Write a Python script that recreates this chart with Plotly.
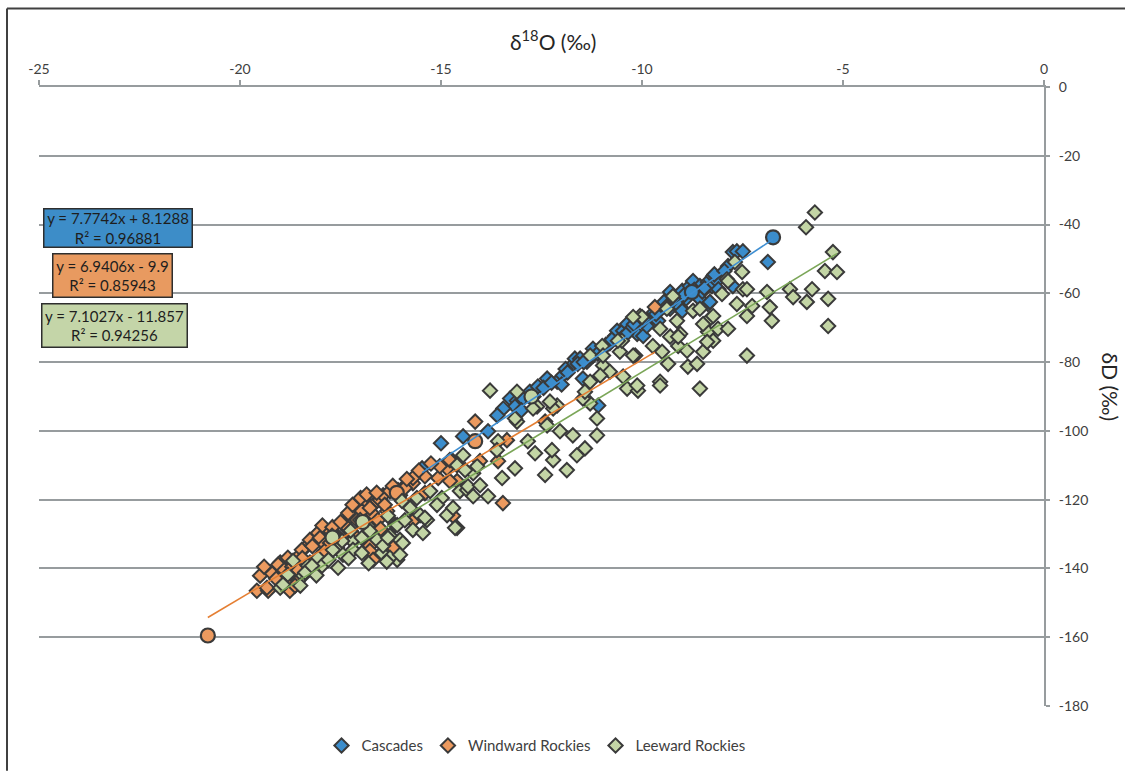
import numpy as np
import plotly.graph_objects as go

# ---- data: δ18O (x) and δD (y), ‰ ----
cascades_x = [-15.47, -15.0, -14.45, -13.83, -13.28, -13.11, -13.16, -12.96, -12.79, -12.59,
              -12.36, -12.11, -11.97, -11.74, -11.67, -11.54, -11.37, -11.22, -11.22, -11.47,
              -11.09, -10.97, -10.67, -10.62, -10.47, -10.37, -10.12, -9.97, -9.88, -9.75,
              -9.60, -9.30, -9.30, -9.13, -9.05, -9.0, -9.0, -8.81, -8.81, -8.73,
              -8.63, -8.56, -8.56, -8.36, -8.36, -8.31, -8.26, -8.23, -8.13, -7.74,
              -7.74, -7.64, -7.49, -6.87, -7.86, -12.0, -11.9, -11.6, -10.8, -10.5,
              -10.25, -10.0, -9.7, -9.45, -8.9, -8.5, -8.1,
              -12.7, -12.45, -12.25, -11.85, -11.45, -11.1, -10.9, -10.75, -10.4, -10.2,
              -9.95, -9.65, -9.4, -9.2, -8.95, -8.7, -8.45, -8.2, -7.95, -13.0,
              -13.45, -13.6]
cascades_y = [-110.9, -103.6, -101.6, -100.1, -90.6, -91.2, -92.9, -90.6, -88.6, -87.1,
              -84.8, -85.7, -83.9, -81.0, -79.0, -79.0, -79.9, -78.1, -76.1, -84.8,
              -92.6, -76.1, -72.4, -70.9, -70.9, -68.9, -71.8, -72.4, -69.5, -66.6,
              -68.0, -64.5, -59.6, -63.7, -64.0, -65.1, -59.3, -60.2, -57.9, -56.4,
              -60.8, -61.6, -57.9, -63.1, -56.7, -62.5, -57.9, -55.0, -56.4, -57.9,
              -48.0, -47.8, -47.8, -50.9, -52.1, -86.5, -82.0, -80.5, -74.5, -73.0,
              -70.0, -68.0, -65.5, -62.5, -61.5, -59.5, -58.8,
              -90.0, -87.5, -86.0, -83.0, -80.0, -77.5, -75.0, -73.5, -72.0, -69.0,
              -67.5, -66.0, -64.0, -61.5, -60.5, -59.0, -58.5, -54.5, -53.5, -94.0,
              -93.5, -95.5]
cascades_circle_x = [-6.74, -8.76]
cascades_circle_y = [-43.7, -59.6]

windward_x = [-19.5, -19.58, -19.30, -19.08, -19.0, -18.58, -18.76, -18.56, -18.76, -18.38,
              -18.08, -18.0, -18.26, -17.84, -17.59, -17.34, -17.31, -17.14, -16.97, -16.84,
              -16.72, -16.59, -16.52, -16.34, -16.02, -15.95, -16.14, -15.70, -16.72, -16.77,
              -16.19, -15.70, -15.40, -15.07, -14.85, -14.73, -14.70, -14.60, -19.05, -18.81,
              -18.46, -18.26, -18.06, -18.01, -17.89, -17.76, -17.64, -17.39, -17.31, -17.09,
              -16.97, -16.77, -16.44, -16.27, -16.07, -17.09, -16.77, -16.69, -18.01, -18.33,
              -18.63, -19.33, -16.57, -14.15, -13.36, -13.46, -13.58, -14.03, -14.78, -15.03,
              -15.40, -15.9, -15.7, -14.78, -12.41, -9.68,
              -19.2, -18.9, -18.7, -18.45, -18.2, -17.95, -17.7, -17.5, -17.2, -17.0,
              -16.85, -16.6, -16.4, -16.2, -15.85, -15.55, -15.25, -16.9, -16.5, -17.9,
              -18.55, -19.1, -19.4]
windward_y = [-142.1, -146.5, -146.5, -139.8, -138.3, -136.9, -142.7, -143.6, -146.5, -134.0,
              -131.1, -129.1, -138.3, -129.1, -130.5, -125.9, -128.8, -124.5, -122.4, -121.0,
              -123.9, -120.4, -120.1, -123.3, -118.7, -116.6, -127.4, -126.2, -137.5, -133.4,
              -134.0, -115.2, -118.1, -113.7, -110.9, -108.5, -124.7, -114.6, -138.9, -136.9,
              -134.6, -131.7, -129.7, -131.1, -133.1, -132.6, -130.5, -127.4, -123.9, -125.9,
              -123.3, -122.4, -118.7, -117.5, -117.2, -131.1, -134.9, -137.5, -138.3, -139.8,
              -145.0, -145.6, -125.9, -97.3, -102.7, -121.0, -108.8, -108.8, -108.5, -110.3,
              -113.2, -116.6, -113.7, -114.6, -97.3, -64.0,
              -141.5, -140.5, -139.5, -137.0, -133.5, -127.5, -128.0, -126.5, -121.5, -119.5,
              -118.5, -118.0, -121.5, -116.0, -114.0, -111.5, -109.5, -126.5, -128.5, -135.0,
              -140.5, -143.0, -139.5]
windward_circle_x = [-20.8, -14.15, -16.1]
windward_circle_y = [-159.5, -103.0, -118.0]

leeward_x = [-19.0, -18.81, -18.68, -18.43, -18.31, -18.06, -17.96, -17.71, -17.59, -17.56,
             -17.44, -17.21, -17.19, -17.01, -16.97, -16.82, -16.59, -16.47, -16.44, -16.32,
             -16.27, -16.09, -16.02, -15.70, -15.77, -15.52, -15.35, -15.27, -14.98, -14.85,
             -14.60, -14.70, -14.53, -14.35, -14.20, -14.45, -14.60, -18.93, -18.38, -18.21,
             -17.69, -17.46, -16.97, -16.77, -16.32, -16.27, -16.09, -16.02, -15.97,
             -13.11, -12.11, -12.36, -12.04, -11.72, -11.29, -11.12, -11.42, -11.62, -11.87,
             -12.41, -12.21, -12.24, -12.66, -12.84, -13.16, -13.48, -13.58, -13.61, -14.10,
             -14.40, -14.33, -14.20, -13.83, -14.03, -14.65, -15.40, -15.45, -15.95, -12.61,
             -12.21, -13.11, -13.16, -12.71, -12.29, -11.12, -11.47, -10.97, -10.80, -10.47,
             -10.37, -10.10, -10.55, -10.17, -9.55, -9.35, -9.50, -9.10, -9.05, -8.86,
             -8.56, -8.48, -8.36, -8.31, -8.23, -8.11, -8.01, -7.86, -7.64, -7.51,
             -7.49, -7.39, -7.39, -7.89, -9.38, -9.13, -8.73, -9.55, -9.23, -10.05,
             -10.50, -10.99, -11.29, -13.78, -5.70, -5.92, -5.25, -5.45, -5.15, -5.77,
             -6.32, -6.24, -5.90, -5.37, -5.37, -6.89, -6.82, -6.77, -7.26, -7.39,
             -7.86, -10.0, -9.30, -9.10, -8.88, -8.63, -8.48, -8.23, -7.69, -8.56,
             -8.38, -9.55, -10.12, -11.04, -11.29, -11.42, -9.73, -10.22, -10.60, -10.97,
             -10.22,
             -18.5, -18.1, -17.8, -17.3, -16.8, -16.35, -15.9, -15.6, -15.1, -17.25]
leeward_y = [-145.6, -141.8, -137.8, -142.1, -139.2, -136.9, -139.2, -130.5, -134.0, -139.8,
             -136.0, -132.0, -134.6, -125.9, -135.5, -127.6, -131.7, -135.5, -133.4, -124.7,
             -130.5, -137.5, -131.7, -128.8, -122.4, -124.5, -125.9, -117.5, -119.5, -124.5,
             -128.2, -122.4, -117.5, -117.2, -112.3, -107.1, -110.0, -144.7, -141.2, -139.2,
             -134.6, -132.0, -131.1, -129.1, -131.1, -136.9, -127.4, -136.0, -120.4,
             -97.3, -92.6, -98.4, -100.1, -101.3, -92.0, -101.3, -105.1, -107.1, -111.4,
             -112.8, -108.5, -105.6, -106.5, -103.0, -110.9, -113.7, -103.0, -105.6, -110.3,
             -111.4, -116.1, -119.0, -119.0, -115.8, -128.2, -125.3, -129.7, -132.6, -92.9,
             -93.5, -88.6, -96.4, -93.5, -91.5, -96.4, -90.6, -81.0, -82.8, -84.2,
             -87.7, -88.3, -77.0, -78.1, -85.7, -80.5, -77.0, -75.3, -71.8, -81.3,
             -87.7, -77.0, -71.2, -67.4, -73.8, -70.3, -60.2, -70.3, -63.1, -53.8,
             -58.8, -78.1, -66.6, -55.9, -64.5, -68.0, -65.1, -70.3, -60.8, -66.6,
             -73.8, -75.3, -78.1, -88.3, -36.5, -40.8, -48.0, -53.5, -53.8, -58.8,
             -58.8, -61.1, -62.5, -61.6, -69.5, -59.6, -64.0, -68.0, -63.7, -58.8,
             -56.4, -66.9, -72.6, -72.6, -76.7, -80.5, -68.9, -66.6, -50.9, -64.5,
             -74.1, -86.8, -86.8, -83.9, -85.7, -88.6, -75.3, -66.9, -73.8, -78.1,
             -78.1,
             -145.0, -142.0, -137.5, -137.0, -138.5, -138.0, -126.0, -119.5, -121.5, -129.0]
leeward_circle_x = [-17.7, -16.95, -12.75]
leeward_circle_y = [-131.0, -126.5, -90.0]

# least-squares fits as printed on the chart
fit_slope = [7.7742, 6.9406, 7.1027]
fit_intercept = [8.1288, -9.9, -11.857]
fit_r2 = [0.96881, 0.85943, 0.94256]

# axis ticks
x_tickvals = [-25, -20, -15, -10, -5, 0]
x_ticktext = ["-25", "-20", "-15", "-10", "-5", "0"]
y_tickvals = [0, -20, -40, -60, -80, -100, -120, -140, -160, -180]
y_ticktext = ["0", "-20", "-40", "-60", "-80", "-100", "-120", "-140", "-160", "-180"]

series_names = ["Cascades", "Windward Rockies", "Leeward Rockies"]
fill_colors = ["#3B8DCC", "#EC9A5F", "#C3D5A5"]
line_colors = ["#3F8FD2", "#E57F33", "#7BA658"]
box_colors = ["#3D8DC8", "#E89A60", "#C4D5A8"]
outline = "#3A3A3A"
grid_col = "#979C9E"
text_col = "#404040"
font_family = "Lato, 'Open Sans', sans-serif"

series = [
    (cascades_x, cascades_y, cascades_circle_x, cascades_circle_y),
    (windward_x, windward_y, windward_circle_x, windward_circle_y),
    (leeward_x, leeward_y, leeward_circle_x, leeward_circle_y),
]

fig = go.Figure()

# markers (series drawn in order, later series on top)
for i, (sx, sy, cx, cy) in enumerate(series):
    fig.add_trace(go.Scatter(
        x=sx, y=sy, mode="markers", name=series_names[i],
        marker=dict(symbol="diamond", size=11, color=fill_colors[i],
                    line=dict(color=outline, width=2)),
    ))
    fig.add_trace(go.Scatter(
        x=cx, y=cy, mode="markers", showlegend=False,
        marker=dict(symbol="circle", size=14, color=fill_colors[i],
                    line=dict(color=outline, width=2.2)),
    ))

# linear trend lines over each series' x-range
for i, (sx, sy, cx, cy) in enumerate(series):
    allx = np.array(list(sx) + list(cx))
    xs = np.array([allx.min(), allx.max()])
    ys = fit_slope[i] * xs + fit_intercept[i]
    fig.add_trace(go.Scatter(
        x=xs, y=ys, mode="lines", showlegend=False,
        line=dict(color=line_colors[i], width=1.6),
    ))


def eq_text(i):
    b = fit_intercept[i]
    sign = "+" if b >= 0 else "-"
    return f"y = {fit_slope[i]:.4f}x {sign} {abs(b):g}<br>R² = {fit_r2[i]:g}"


# layout geometry in pixels
W, H = 1125, 774
L, R, T, B = 39, 81, 87, 65
pw, ph = W - L - R, H - T - B


def px_x(p):
    return (p - L) / pw


def px_y(p):
    return 1 - (p - T) / ph


# equation boxes: centre x, centre y, width, height
boxes = [
    (117.5, 228.5, 151, 41),
    (112.0, 276.0, 122, 46),
    (114.0, 327.0, 148, 46),
]
for i, (bx, by, bw, bh) in enumerate(boxes):
    fig.add_annotation(
        x=px_x(bx), y=px_y(by), xref="paper", yref="paper",
        xanchor="center", yanchor="middle", showarrow=False,
        text=eq_text(i), align="center",
        width=bw - 6, height=bh - 6,
        bgcolor=box_colors[i], bordercolor="#2E2E2E", borderwidth=1.5, borderpad=1,
        font=dict(family=font_family, size=15, color="#1E1E1E"),
    )

# axis titles
fig.add_annotation(
    x=px_x(553), y=px_y(40), xref="paper", yref="paper", showarrow=False,
    xanchor="center", yanchor="middle",
    text="δ<sup>18</sup>O (‰)", font=dict(family=font_family, size=21, color="#262626"),
)
fig.add_annotation(
    x=px_x(1110), y=px_y(388), xref="paper", yref="paper", showarrow=False,
    xanchor="center", yanchor="middle", textangle=90,
    text="δD (‰)", font=dict(family=font_family, size=21, color="#262626"),
)

# chart frame: top and left edges only
frame = dict(color="#404040", width=2)
fig.add_shape(type="line", xref="paper", yref="paper",
              x0=px_x(7), y0=px_y(8), x1=px_x(1125), y1=px_y(8), line=frame)
fig.add_shape(type="line", xref="paper", yref="paper",
              x0=px_x(7), y0=px_y(8), x1=px_x(7), y1=px_y(774), line=frame)

tick_font = dict(family=font_family, size=14, color=text_col)

fig.update_layout(
    width=W, height=H,
    margin=dict(l=L, r=R, t=T, b=B),
    paper_bgcolor="white", plot_bgcolor="white",
    font=dict(family=font_family, color=text_col),
    xaxis=dict(
        range=[-25, 0], side="top", tickvals=x_tickvals, ticktext=x_ticktext,
        showgrid=False, zeroline=False,
        showline=True, linecolor=grid_col, linewidth=2,
        ticks="outside", ticklen=5, tickwidth=2, tickcolor=grid_col,
        tickfont=tick_font,
    ),
    xaxis2=dict(
        range=[-25, 0], overlaying="x", side="top", tickvals=x_tickvals,
        showgrid=False, zeroline=False, showline=False, showticklabels=False,
        ticks="inside", ticklen=5, tickwidth=2, tickcolor=grid_col,
    ),
    yaxis=dict(
        range=[-180, 0], side="right", tickvals=y_tickvals, ticktext=y_ticktext,
        showgrid=True, gridcolor=grid_col, gridwidth=2, zeroline=False,
        showline=True, linecolor=grid_col, linewidth=2,
        ticks="outside", ticklen=4, tickwidth=2, tickcolor=grid_col,
        ticklabelstandoff=6,
        tickfont=tick_font,
    ),
    legend=dict(
        orientation="h", x=px_x(536), xanchor="center", y=px_y(749), yanchor="middle",
        font=dict(family=font_family, size=15, color=text_col),
        bgcolor="rgba(0,0,0,0)", itemwidth=30,
    ),
    showlegend=True,
)

fig.write_html("out.html")
